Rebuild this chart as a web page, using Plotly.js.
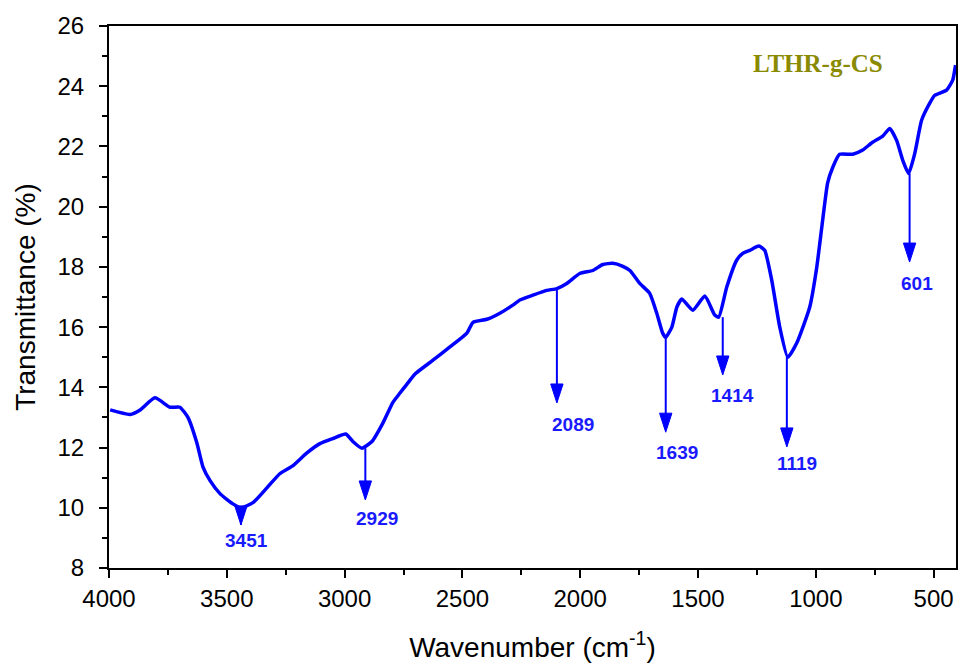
<!DOCTYPE html>
<html>
<head>
<meta charset="utf-8">
<script src="https://cdn.plot.ly/plotly-3.0.1.min.js"></script>
<style>html,body{margin:0;padding:0;background:#fff;}#chart{width:960px;height:663px;}</style>
</head>
<body>
<div id="chart"></div>
<script>
// Spectrum data (wavenumber cm^-1, transmittance %)
const wavenumber = [3995,3911,3868,3805,3741,3699,3665,3627,3601,3571,3529,3474,3440,3389,3330,3275,3219,3160,3105,3050,2995,2965,2927,2884,2837,2795,2765,2736,2700,2625,2553,2481,2455,2396,2341,2286,2256,2201,2142,2099,2057,2002,1947,1904,1862,1819,1789,1747,1705,1675,1650,1637,1611,1590,1569,1522,1471,1429,1412,1378,1336,1310,1280,1242,1217,1187,1153,1119,1081,1026,996,971,950,928,899,843,801,759,716,686,657,631,606,580,551,517,495,445,419,407];
const transmittance = [13.25,13.1,13.25,13.65,13.34,13.34,13.0,12.15,11.35,10.9,10.47,10.13,10.0,10.17,10.66,11.13,11.4,11.82,12.13,12.3,12.45,12.2,11.98,12.2,12.82,13.5,13.81,14.1,14.45,14.9,15.34,15.8,16.16,16.26,16.46,16.73,16.9,17.06,17.22,17.28,17.45,17.78,17.88,18.08,18.12,18.02,17.88,17.45,17.12,16.46,15.8,15.66,16.0,16.66,16.93,16.56,17.03,16.4,16.33,17.33,18.22,18.45,18.55,18.69,18.55,17.55,16.0,15.0,15.47,16.66,17.99,19.55,20.78,21.31,21.74,21.74,21.88,22.14,22.34,22.6,22.2,21.54,21.1,21.77,22.87,23.43,23.7,23.87,24.2,24.7];

// Peak markers
const peakLabels = ['3451','2929','2089','1639','1414','1119','601'];
const arrowX     = [3440, 2912, 2099, 1637, 1395, 1123, 602];
const arrowTail  = [10.0, 11.98, 17.28, 15.66, 16.33, 15.0, 21.1];
const arrowTip   = [9.43, 10.26, 13.48, 12.51, 14.41, 12.02, 18.16];
const labelX     = [3415, 2863, 2031, 1590, 1352, 1081, 572];
const labelY     = [8.9, 9.64, 12.75, 11.85, 13.74, 11.47, 17.45];

const sampleName = 'LTHR-g-CS';
const sampleX = 992, sampleY = 24.76;

const xTicks = [4000,3500,3000,2500,2000,1500,1000,500];
const yTicks = [8,10,12,14,16,18,20,22,24,26];

const blue = '#0000ff';

// arrows as line + arrow marker traces
const arrX = [], arrY = [], arrSize = [];
for (let i = 0; i < peakLabels.length; i++) {
  arrX.push(arrowX[i], arrowX[i], null);
  arrY.push(arrowTail[i], arrowTip[i], null);
  arrSize.push(0, 20, 0);
}
const arrowTrace = {
  x: arrX, y: arrY, type: 'scatter', mode: 'lines+markers',
  line: {color: blue, width: 2},
  marker: {symbol: 'arrow', angleref: 'previous', size: arrSize, color: blue, opacity: 1, line: {width: 1, color: blue}},
  connectgaps: false, hoverinfo: 'skip'
};

const annotations = [];
for (let i = 0; i < peakLabels.length; i++) {
  annotations.push({
    x: labelX[i], y: labelY[i], xref: 'x', yref: 'y', showarrow: false,
    text: '<b>' + peakLabels[i] + '</b>',
    font: {family: 'Arial, Liberation Sans, sans-serif', size: 19, color: '#1a1aff'}
  });
}
annotations.push({
  x: sampleX, y: sampleY, xref: 'x', yref: 'y', showarrow: false,
  text: '<b>' + sampleName + '</b>',
  font: {family: 'Times New Roman, Liberation Serif, serif', size: 25, color: '#8a8a00'}
});

const trace = {
  x: wavenumber, y: transmittance, type: 'scatter', mode: 'lines',
  line: {color: blue, width: 3.5, shape: 'spline', smoothing: 0.5},
  hoverinfo: 'skip'
};

const axisFont = {family: 'Arial, Liberation Sans, sans-serif', size: 24, color: '#000'};
const titleFont = {family: 'Arial, Liberation Sans, sans-serif', size: 28, color: '#000'};
const layout = {
  width: 960, height: 663,
  margin: {l: 109, r: 4, t: 26, b: 95},
  paper_bgcolor: '#fff', plot_bgcolor: '#fff',
  showlegend: false,
  xaxis: {
    range: [4000, 405], tickmode: 'array', tickvals: xTicks,
    ticktext: xTicks.map(String),
    ticks: 'outside', ticklen: 8, tickwidth: 2, tickcolor: '#000',
    ticklabelstandoff: 0,
    minor: {dtick: 250, tick0: 0, ticks: 'outside', ticklen: 5, tickwidth: 2, tickcolor: '#000'},
    showline: true, linewidth: 2, linecolor: '#000', mirror: true,
    showgrid: false, zeroline: false,
    tickfont: axisFont,
    title: {text: 'Wavenumber (cm<sup>-1</sup>)', font: titleFont, standoff: 28}
  },
  yaxis: {
    range: [8, 26], tickmode: 'array', tickvals: yTicks,
    ticktext: yTicks.map(String),
    ticks: 'outside', ticklen: 8, tickwidth: 2, tickcolor: '#000',
    ticklabelstandoff: 10,
    minor: {dtick: 1, tick0: 0, ticks: 'outside', ticklen: 5, tickwidth: 2, tickcolor: '#000'},
    showline: true, linewidth: 2, linecolor: '#000', mirror: true,
    showgrid: false, zeroline: false,
    tickfont: axisFont,
    title: {text: 'Transmittance (%)', font: titleFont, standoff: 14}
  },
  annotations: annotations
};

Plotly.newPlot('chart', [trace, arrowTrace], layout, {staticPlot: true, displayModeBar: false});
</script>
</body>
</html>
